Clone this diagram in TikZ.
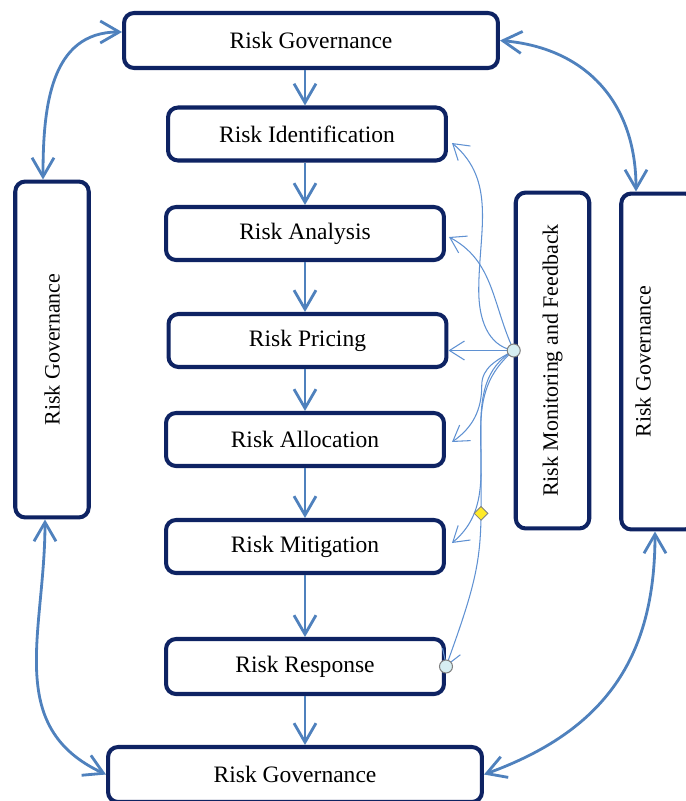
\documentclass[tikz,border=0pt]{standalone}
\usepackage{fontspec}
\setmainfont{Liberation Serif}
\usepackage{tikz}
\usetikzlibrary{arrows.meta, calc, shapes.geometric}
\definecolor{navy}{RGB}{14,35,99}
\definecolor{steel}{RGB}{79,129,189}
\definecolor{thinblue}{RGB}{95,145,210}
\definecolor{handlecyan}{RGB}{214,238,242}
\definecolor{handleyellow}{RGB}{255,234,40}
\tikzset{
    >={Straight Barb[length=0.38cm, width=0.44cm]},
    block/.style={draw=navy, line width=2.3pt, rounded corners=0.2cm,
        minimum width=5.56cm, minimum height=1.06cm, font=\fontsize{13.4}{16}\selectfont},
    govbox/.style={block, minimum width=7.48cm, minimum height=1.1cm},
    vblock/.style={block, minimum width=1.47cm, minimum height=6.72cm, font=\fontsize{12.5}{15}\selectfont},
    flow/.style={steel, line width=1.6pt},
    link/.style={thinblue, line width=0.6pt, -{Straight Barb[length=0.3cm, width=0.38cm]}},
    handle/.style={circle, draw=gray, fill=handlecyan, line width=0.6pt, minimum size=0.26cm, inner sep=0pt},
    adjust/.style={diamond, draw=gray, fill=handleyellow, line width=0.5pt, minimum size=0.28cm, inner sep=0pt},
}

\begin{document}
\begin{tikzpicture}[x=0.02cm, y=0.02cm]
    \useasboundingbox (0,0) rectangle (686,-801);
    \clip (0,0) rectangle (686,-801);
    % main chain
    \node[govbox] (govT) at (311,-40.5) {Risk Governance};
    \node[block] (ident) at (307,-134) {Risk Identification};
    \node[block] (anal) at (305,-233.5) {Risk Analysis};
    \node[block] (pric) at (307.5,-340.5) {Risk Pricing};
    \node[block] (alloc) at (305,-439.5) {Risk Allocation};
    \node[block] (miti) at (305,-546.5) {Risk Mitigation};
    \node[block, minimum height=1.1cm] (resp) at (305,-666.5) {Risk Response};
    \node[govbox] (govB) at (295,-774.5) {Risk Governance};
    % side columns
    \node[vblock] (govL) at (52,-349.5) {\rotatebox{90}{Risk Governance}};
    \node[vblock] (mon) at (552.5,-360.5) {\rotatebox{90}{Risk Monitoring and Feedback}};
    \node[vblock] (govR) at (658,-361.5) {\rotatebox{90}{Risk Governance}\hspace*{0.6cm}};
    \foreach \a/\b in {govT/ident, ident/anal, anal/pric, pric/alloc, alloc/miti, miti/resp, resp/govB}
        \draw[flow, ->] (\a.south -| resp) -- (\b.north -| resp);
    \draw[flow, <->] ([xshift=-0.18cm]govL.north) to[out=90, in=180, looseness=1.1] ([yshift=0.17cm]govT.west);
    \draw[flow, <->] ([xshift=-0.44cm]govR.north) to[out=90, in=-5, looseness=1.1] (govT.east);
    \draw[flow, <->] ([xshift=-0.14cm]govL.south) to[out=-90, in=155, looseness=1.1] (govB.west);
    \draw[flow, <->] ([xshift=-0.06cm]govR.south) to[out=-90, in=20, looseness=1.1] (govB.east);
    % feedback links
    \coordinate (fbStart) at ($(mon.west)+(0,10)$);
    \coordinate (fbEnd) at (resp.east);
    \draw[link] (fbStart) to[out=170, in=-90] ++(-35,60) to[out=90, in=-40] ($(ident.east)+(4,-9)$);
    \draw[link] (fbStart) to[out=115, in=-28] ($(anal.east)+(3,-3.5)$);
    \draw[link] (fbStart) -- (fbStart -| pric.east);
    \draw[link] (fbStart) to[out=-150, in=90] ++(-32,-35) to[out=-90, in=35] ($(alloc.east)+(6,-2.5)$);
    \draw[link] (fbStart) to[out=-150, in=90] ++(-33,-80) to[out=-90, in=40] ($(miti.east)+(6,3.5)$);
    \draw[link] (fbStart) to[out=-140, in=90] ++(-33,-80)
        to[out=-90, in=70, looseness=1.3] node[adjust, pos=0.3] (hD) {} (fbEnd);
    \node[handle] (hA) at (fbStart) {};
    \node[handle] (hB) at (fbEnd) {};
\end{tikzpicture}
\end{document}
